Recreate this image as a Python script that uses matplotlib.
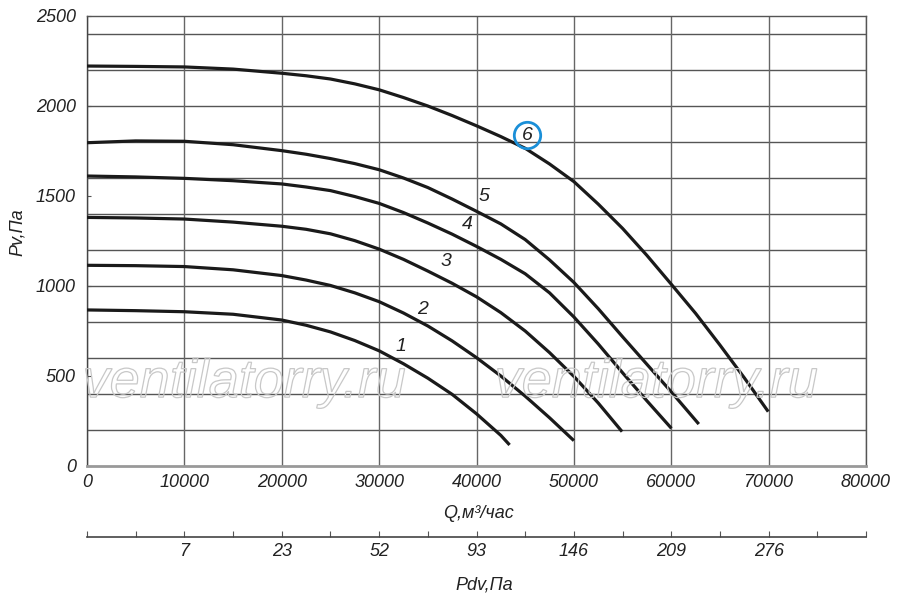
import numpy as np
import matplotlib
matplotlib.use("Agg")
import matplotlib.pyplot as plt
from matplotlib.textpath import TextPath
from matplotlib.patches import PathPatch
from matplotlib.font_manager import FontProperties
import matplotlib.transforms as mtransforms

plt.rcParams['font.family'] = ['Liberation Sans', 'DejaVu Sans']
plt.rcParams['font.style'] = 'italic'

# curves: flow Q (m3/h) and pressure Pv (Pa)
q1 = [0, 5000, 10000, 15000, 20000, 22500, 25000, 27500, 30000, 32500, 35000,
      37500, 40000, 42500, 43400]
p1 = [867, 863, 857, 843, 811, 782, 745, 697, 640, 568, 488,
      398, 290, 170, 117]

q2 = [0, 5000, 10000, 15000, 20000, 22500, 25000, 27500, 30000, 32500, 35000,
      37500, 40000, 42500, 45000, 47500, 50000]
p2 = [1115, 1113, 1108, 1090, 1058, 1033, 1003, 962, 913, 850, 778,
      695, 602, 500, 388, 268, 141]

q3 = [0, 5000, 10000, 15000, 20000, 22500, 25000, 27500, 30000, 32500, 35000,
      37500, 40000, 42500, 45000, 47500, 50000, 52500, 54950]
p3 = [1381, 1378, 1372, 1355, 1332, 1315, 1290, 1252, 1205, 1148, 1083,
      1015, 940, 852, 750, 630, 498, 350, 191]

q4 = [0, 5000, 10000, 15000, 20000, 22500, 25000, 27500, 30000, 32500, 35000,
      37500, 40000, 42500, 45000, 47500, 50000, 52500, 55000, 57500, 60020]
p4 = [1611, 1606, 1598, 1585, 1567, 1550, 1530, 1497, 1459, 1408, 1350,
      1288, 1220, 1148, 1068, 962, 828, 678, 518, 362, 209]

q5 = [0, 5000, 10000, 15000, 20000, 22500, 25000, 27500, 30000, 32500, 35000,
      37500, 40000, 42500, 45000, 47500, 50000, 52500, 55000, 57500, 60000, 62830]
p5 = [1796, 1806, 1804, 1785, 1752, 1732, 1708, 1680, 1646, 1600, 1547,
      1483, 1415, 1345, 1258, 1145, 1020, 874, 718, 565, 412, 233]

q6 = [0, 5000, 10000, 15000, 20000, 22500, 25000, 27500, 30000, 32500, 35000,
      37500, 40000, 42500, 45000, 47500, 50000, 52500, 55000, 57500, 60000,
      62500, 65000, 67500, 69960]
p6 = [2222, 2220, 2217, 2205, 2182, 2168, 2150, 2123, 2090, 2047, 2000,
      1947, 1890, 1830, 1765, 1678, 1580, 1455, 1320, 1170, 1010,
      848, 672, 490, 302]

curves = [(q1, p1), (q2, p2), (q3, p3), (q4, p4), (q5, p5), (q6, p6)]

# curve number labels
label_names = ['1', '2', '3', '4', '5', '6']
label_q = [32200, 34500, 36900, 39100, 40800, 45200]
label_p = [663, 872, 1137, 1339, 1495, 1837]

# dynamic pressure scale under the chart
pdv_q = [10000, 20000, 30000, 40000, 50000, 60000, 70000]
pdv_vals = [7, 23, 52, 93, 146, 209, 276]

fig = plt.figure(figsize=(9, 6.04), dpi=100)
ax = fig.add_axes([87 / 900, 1 - 466 / 604, 779 / 900, 450 / 604])

ax.set_xlim(0, 80000)
ax.set_ylim(0, 2500)

# grid
ax.set_xticks(np.arange(0, 80001, 10000))
ax.grid(axis='x', color='#666666', lw=1.0)
ax.hlines(np.arange(200, 2500, 200), 0, 80000, color='#555555', lw=1.0, zorder=1)

ax.set_yticks(np.arange(0, 2501, 500))
ax.tick_params(axis='y', direction='in', length=3, color='#555555', pad=8, labelsize=13)
ax.tick_params(axis='x', length=0, pad=6, labelsize=13)
for lab in ax.get_xticklabels() + ax.get_yticklabels():
    lab.set_style('italic')
    lab.set_color('#222222')

for name, sp in ax.spines.items():
    sp.set_color('#555555')
    sp.set_linewidth(1.0)
ax.spines['bottom'].set_color('#999999')
ax.spines['bottom'].set_linewidth(2.0)
ax.spines['left'].set_color('#444444')

# watermark (outlined text)
fp = FontProperties(family='Liberation Sans', style='italic')
for cx in [0.203, 0.732]:
    tp = TextPath((0, 0), 'ventilatorry.ru', size=54, prop=fp)
    bb = tp.get_extents()
    px, py = ax.transAxes.transform((cx, 0.184))
    tr = mtransforms.Affine2D().translate(-(bb.x0 + bb.width / 2), -(bb.y0 + bb.height / 2)).translate(px, py)
    patch = PathPatch(tp, transform=tr, facecolor='none', edgecolor='#c8c8c8', lw=0.9, zorder=2)
    fig.patches.append(patch)

for q, p in curves:
    ax.plot(q, p, color='#1a1a1a', lw=2.3, solid_capstyle='butt', solid_joinstyle='round', zorder=4)

for name, q, p in zip(label_names, label_q, label_p):
    ax.text(q, p, name, fontsize=14, style='italic', ha='center', va='center', color='#222222', zorder=5)

ax.plot(label_q[-1], label_p[-1], marker='o', ms=19, mfc='none', mec='#1a8fd8', mew=2.0, zorder=5)

# Pdv scale
ax2 = fig.add_axes([87 / 900, 1 - 537 / 604, 779 / 900, 0.0001])
ax2.set_xlim(0, 80000)
ax2.set_yticks([])
for name in ['top', 'left', 'right']:
    ax2.spines[name].set_visible(False)
ax2.spines['bottom'].set_color('#444444')
ax2.spines['bottom'].set_linewidth(1.2)
ticks = np.arange(0, 80001, 5000)
ax2.set_xticks(ticks)
tick_labels = []
for t in ticks:
    if t in pdv_q:
        tick_labels.append(str(pdv_vals[pdv_q.index(t)]))
    else:
        tick_labels.append('')
ax2.set_xticklabels(tick_labels, style='italic', fontsize=13, color='#222222')
ax2.tick_params(axis='x', direction='in', length=4, color='#555555', pad=4)

fig.text(478 / 900, 1 - 513 / 604, 'Q,м³/час', ha='center', va='center', fontsize=13, style='italic', color='#222222')
fig.text(484 / 900, 1 - 585 / 604, 'Pdv,Па', ha='center', va='center', fontsize=13, style='italic', color='#222222')
fig.text(17 / 900, 1 - 232 / 604, 'Pv,Па', ha='center', va='center', rotation=90, fontsize=13, style='italic', color='#222222')

fig.savefig('out.png', dpi=100)
